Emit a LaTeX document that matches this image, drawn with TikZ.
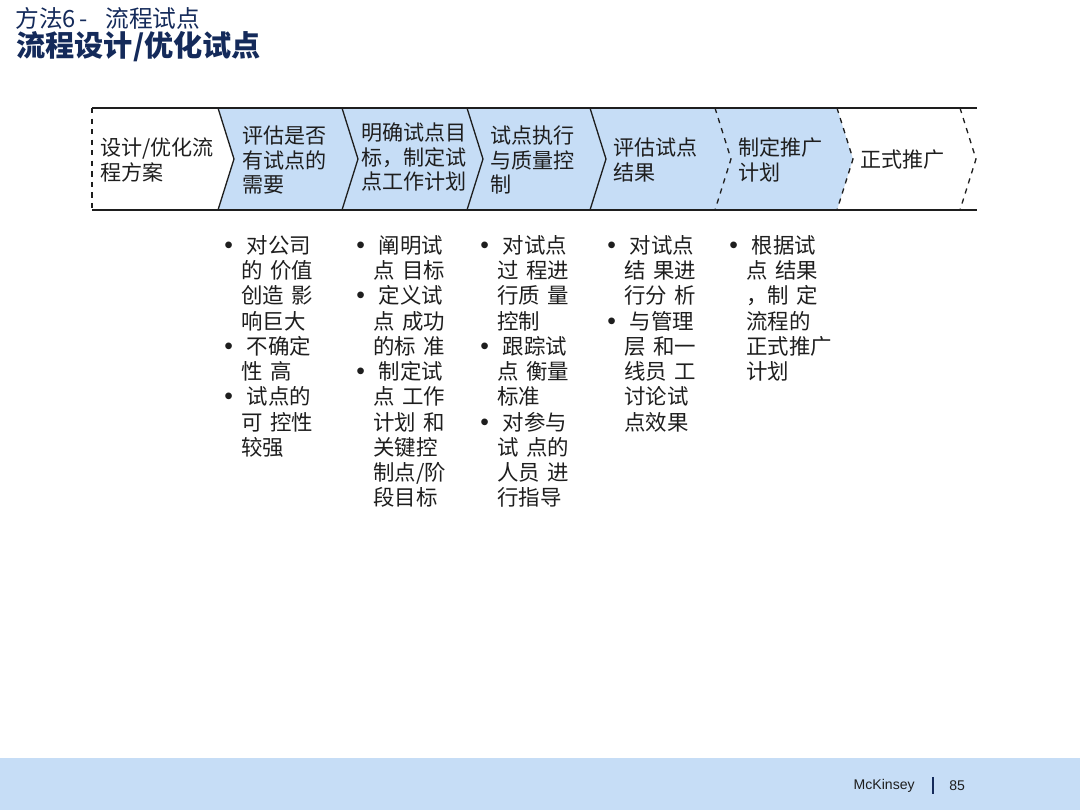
\documentclass[tikz,border=0pt]{standalone}
\usepackage{fontspec}
\setmainfont{Noto Sans CJK SC}
\newfontfamily\latinfont{Liberation Sans}
\usetikzlibrary{positioning}
\definecolor{chevblue}{RGB}{198,221,246}
\definecolor{titleblue}{RGB}{20,42,90}
\definecolor{inkgray}{RGB}{30,30,30}
\newcommand\bulpt{\par\hangindent=0.8em\hangafter=1\noindent\makebox[1.05em][l]{\latinfont\fontsize{14}{13}\selectfont\textbullet}}
\tikzset{
  stagetext/.style={
    anchor = west,
    inner sep = 0pt,
    align = left,
    text = inkgray,
    font = \fontsize{12}{14.2}\selectfont
  },
  bullets/.style={
    anchor = north west,
    inner sep = 0pt,
    text width = 1.8cm,
    text = inkgray,
    font = \fontsize{12.2}{14.35}\selectfont
  },
  frame/.style={
    draw = inkgray,
    line width = 0.75pt
  },
}
\begin{document}
\begin{tikzpicture}[x=0.02cm,y=-0.02cm]
  \useasboundingbox (0,0) rectangle (1080,810);
  \fill[chevblue] (0,758) rectangle (1080,810);
  \node[anchor=west,inner sep=0pt,text=titleblue,font=\fontsize{13.5}{15}\selectfont] (kicker) at (15,18) {方法6\hspace{0.15em}-\hspace{0.75em}流程试点};
  \node[anchor=west,inner sep=0pt,text=titleblue,font=\bfseries\fontsize{16.6}{18}\selectfont] (title) at (16,47) {流程设计/优化试点};
  \fill[chevblue] (218,108) -- (837,108) -- (853,159) -- (837,210) -- (218,210) -- (234,159) -- cycle;
  \draw[frame] (92,108) -- (977,108);
  \draw[frame] (92,210) -- (977,210);
  \draw[frame,dashed] (92,108) -- (92,210);
  \foreach \x in {218,342,467,590}{
    \draw[frame] (\x,108) -- (\x+16,159) -- (\x,210);
  }
  \foreach \x in {715,837,960}{
    \draw[frame,dashed] (\x,108) -- (\x+16,159) -- (\x,210);
  }
  \node[stagetext] (s1) at (100,160) {设计/优化流\\程方案};
  \node[stagetext] (s2) at (242,160) {评估是否\\有试点的\\需要};
  \node[stagetext] (s3) at (361,157) {明确试点目\\标，制定试\\点工作计划};
  \node[stagetext] (s4) at (490,160) {试点执行\\与质量控\\制};
  \node[stagetext] (s5) at (613,160) {评估试点\\结果};
  \node[stagetext] (s6) at (738,160) {制定推广\\计划};
  \node[stagetext] (s7) at (860,160) {正式推广};
  \node[bullets] (b2) at (224,228) {\bulpt 对公司\newline 的 价值\newline 创造 影\newline 响巨大
    \bulpt 不确定\newline 性 高
    \bulpt 试点的\newline 可 控性\newline 较强\par};
  \node[bullets] (b3) at (356,228) {\bulpt 阐明试\newline 点 目标
    \bulpt 定义试\newline 点 成功\newline 的标 准
    \bulpt 制定试\newline 点 工作\newline 计划 和\newline 关键控\newline 制点/阶\newline 段目标\par};
  \node[bullets] (b4) at (480,228) {\bulpt 对试点\newline 过 程进\newline 行质 量\newline 控制
    \bulpt 跟踪试\newline 点 衡量\newline 标准
    \bulpt 对参与\newline 试 点的\newline 人员 进\newline 行指导\par};
  \node[bullets] (b5) at (607,228) {\bulpt 对试点\newline 结 果进\newline 行分 析
    \bulpt 与管理\newline 层 和一\newline 线员 工\newline 讨论试\newline 点效果\par};
  \node[bullets] (b6) at (729,228) {\bulpt 根据试\newline 点 结果\newline ，制 定\newline 流程的\newline 正式推广\newline 计划\par};
  \node[anchor=east,inner sep=0pt,text=inkgray,font=\latinfont\fontsize{8}{10}\selectfont] (brand) at (915,786) {McKinsey};
  \draw[titleblue,line width=1.2pt] (933,777) -- (933,794);
  \node[anchor=west,inner sep=0pt,text=inkgray,font=\latinfont\fontsize{8}{10}\selectfont] (page) at (949,786) {85};
\end{tikzpicture}
\end{document}
